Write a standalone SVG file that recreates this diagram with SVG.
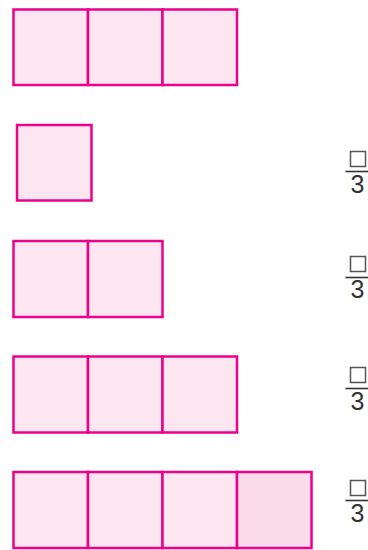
<svg xmlns="http://www.w3.org/2000/svg" width="368" height="550" viewBox="0 0 368 550">
<style>
.sq{fill:#FCE6F0;stroke:#EC008C;stroke-width:2.5}
.sq2{fill:#FADBEA;stroke:#EC008C;stroke-width:2.5}
.bx{fill:#fff;stroke:#555;stroke-width:1.5}
.ln{stroke:#333;stroke-width:1.6}
.num{font-family:"Liberation Sans",Arial,sans-serif;font-size:25px;fill:#333;text-anchor:middle}
</style>
<rect width="368" height="550" fill="#fff"/>
<g id="row1">
<rect class="sq" x="13.5" y="9.5" width="74.5" height="75.5"/>
<rect class="sq" x="88" y="9.5" width="74.5" height="75.5"/>
<rect class="sq" x="162.5" y="9.5" width="74.5" height="75.5"/>
</g>
<g id="row2">
<rect class="sq" x="17" y="125" width="74.5" height="75.5"/>
</g>
<g id="row3">
<rect class="sq" x="13.5" y="241" width="74.5" height="76"/>
<rect class="sq" x="88" y="241" width="74.5" height="76"/>
</g>
<g id="row4">
<rect class="sq" x="13.5" y="356.5" width="74.5" height="76"/>
<rect class="sq" x="88" y="356.5" width="74.5" height="76"/>
<rect class="sq" x="162.5" y="356.5" width="74.5" height="76"/>
</g>
<g id="row5">
<rect class="sq" x="13.5" y="472" width="74.5" height="76"/>
<rect class="sq" x="88" y="472" width="74.5" height="76"/>
<rect class="sq" x="162.5" y="472" width="74.5" height="76"/>
<rect class="sq2" x="237" y="472" width="74.5" height="76"/>
</g>
<g id="frac2">
<rect class="bx" x="350.5" y="151.5" width="15" height="15"/>
<line class="ln" x1="345.5" y1="171.5" x2="368" y2="171.5"/>
<text class="num" x="357.5" y="193">3</text>
</g>
<g id="frac3">
<rect class="bx" x="350.5" y="256.5" width="15" height="15"/>
<line class="ln" x1="345.5" y1="277.5" x2="368" y2="277.5"/>
<text class="num" x="357.5" y="298">3</text>
</g>
<g id="frac4">
<rect class="bx" x="350.5" y="367.5" width="15" height="15"/>
<line class="ln" x1="345.5" y1="388.5" x2="368" y2="388.5"/>
<text class="num" x="357.5" y="410">3</text>
</g>
<g id="frac5">
<rect class="bx" x="350.5" y="480.5" width="15" height="15"/>
<line class="ln" x1="345.5" y1="500.5" x2="368" y2="500.5"/>
<text class="num" x="357.5" y="521.5">3</text>
</g>
</svg>
